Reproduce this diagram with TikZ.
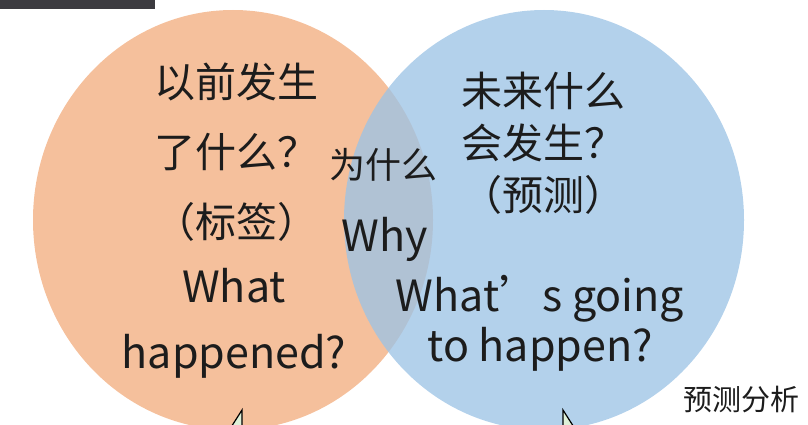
\documentclass[tikz,border=0pt]{standalone}
\usepackage{fontspec}
\setmainfont{Noto Sans CJK SC}
\usetikzlibrary{shapes.geometric}
\definecolor{pastorange}{RGB}{245,192,156}
\definecolor{futureblue}{RGB}{156,195,229}
\definecolor{bargray}{RGB}{60,59,64}
\definecolor{tailgreen}{RGB}{222,240,216}
\definecolor{inkgray}{RGB}{28,28,28}

\begin{document}
\begin{tikzpicture}[x=1pt,y=-1pt,
    blob/.style={ellipse,minimum width=400pt,minimum height=420pt,inner sep=0pt},
    cn/.style={text=inkgray,align=center,inner sep=0pt,font=\fontsize{41}{70}\selectfont},
    en/.style={text=inkgray,align=center,inner sep=0pt,font=\fontsize{43}{66}\selectfont},
    tail/.style={draw=black,fill=tailgreen,line width=1.2pt,line join=miter}]
  \useasboundingbox (0,0) rectangle (808,425);
  \fill[bargray] (0,0) rectangle (155,9);
  % the two sets
  \node[blob,fill=pastorange] (past) at (233,220) {};
  \node[blob,fill=futureblue,fill opacity=0.77] (future) at (544,220) {};
  % left: what happened
  \node[cn] (pastcn) at (236,152) {以前发生\\了什么？\\（标签）};
  \node[en] (pasten) at (234,323) {What\\happened?};
  % right: what will happen
  \node[cn,font=\fontsize{41}{52}\selectfont] (futurecn) at (543,143) {未来什么\\会发生？\\（预测）};
  \node[en,font=\fontsize{43}{50}\selectfont] (futureen) at (540,323) {What’s going\\to happen?};
  % overlap: why
  \node[cn,font=\fontsize{36}{40}\selectfont] (whycn) at (383,165) {为什么};
  \node[en] (whyen) at (385,239) {Why};
  \node[cn,font=\fontsize{29}{32}\selectfont] (analysis) at (741,400) {预测分析};
  % cut-off callout tails
  \coordinate (ltip) at (242,410);
  \coordinate (rtip) at (563,410);
  \draw[tail] (228,432) -- (ltip) -- ++(0,22);
  \draw[tail] (rtip) -- ++(0,22) -- (577,432) -- cycle;
\end{tikzpicture}
\end{document}
